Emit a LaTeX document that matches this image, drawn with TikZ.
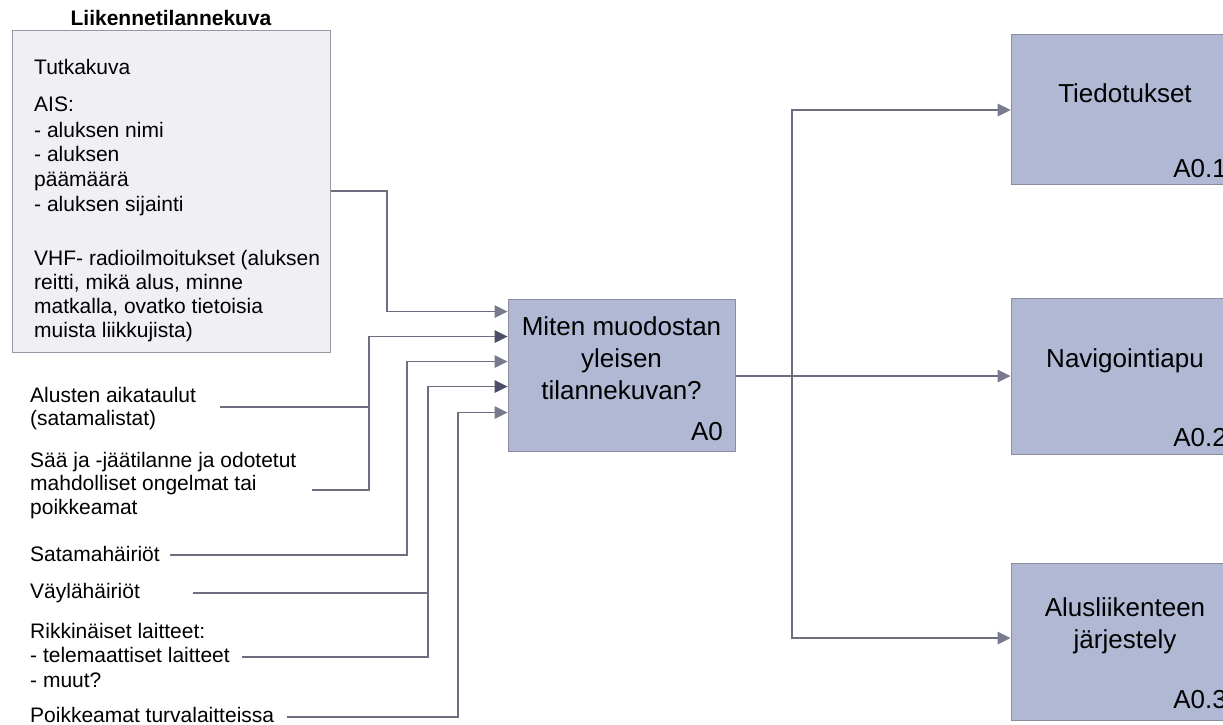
\documentclass[tikz,border=0pt]{standalone}
\usepackage{fontspec}
\setmainfont{Liberation Sans}
\usetikzlibrary{arrows.meta,calc}
\definecolor{procfill}{RGB}{176,184,212}
\definecolor{procdraw}{RGB}{140,140,158}
\definecolor{notefill}{RGB}{239,239,244}
\definecolor{notedraw}{RGB}{150,150,165}
\definecolor{wirecol}{RGB}{110,110,128}
\definecolor{tiplight}{RGB}{122,122,142}
\definecolor{tipdark}{RGB}{78,78,104}
\newcommand\lblfont{\fontsize{21}{24}\selectfont}
\newcommand\procfont{\fontsize{26}{32}\selectfont}
\tikzset{
  wire/.style={draw=wirecol, line width=1.8pt},
  tl/.style={-{Triangle[length=13pt,width=13pt,color=tiplight,line width=0pt]}},
  td/.style={-{Triangle[length=13pt,width=13pt,color=tipdark,line width=0pt]}},
  lbl/.style={font=\lblfont, inner sep=0pt, anchor=base west},
  ptext/.style={font=\procfont, inner sep=0pt, anchor=base},
  pnum/.style={font=\procfont, inner sep=0pt, anchor=base east},
  procbox/.style={draw=procdraw, fill=procfill, line width=1pt, inner sep=0pt, minimum width=228pt},
  notebox/.style={draw=notedraw, fill=notefill, line width=1pt, inner sep=0pt}
}
\begin{document}
\begin{tikzpicture}[x=1pt,y=-1pt]
\useasboundingbox (0,0) rectangle (1223,724);
\fill[white] (0,0) rectangle (1223,724);

% note box
\node[font=\lblfont\bfseries, inner sep=0pt, anchor=base] (title) at (171,25) {Liikennetilannekuva};
\node[notebox, minimum width=318pt, minimum height=322pt] (note) at (171,191) {};
\node[lbl] (t1) at (34,74) {Tutkakuva};
\node[lbl] (t2) at (34,111.5) {AIS:};
\node[lbl] (t3) at (34,137) {- aluksen nimi};
\node[lbl] (t4) at (34,161.5) {- aluksen};
\node[lbl] (t5) at (34,186.5) {päämäärä};
\node[lbl] (t6) at (34,211.5) {- aluksen sijainti};
\node[lbl] (t7) at (34,265) {VHF- radioilmoitukset (aluksen};
\node[lbl] (t8) at (34,289) {reitti, mikä alus, minne};
\node[lbl] (t9) at (34,313) {matkalla, ovatko tietoisia};
\node[lbl] (t10) at (34,337) {muista liikkujista)};

% left labels
\node[lbl] (l1a) at (30,402) {Alusten aikataulut};
\node[lbl] (l1b) at (30,425) {(satamalistat)};
\node[lbl] (l2a) at (30,467) {Sää ja -jäätilanne ja odotetut};
\node[lbl] (l2b) at (30,490) {mahdolliset ongelmat tai};
\node[lbl] (l2c) at (30,514) {poikkeamat};
\node[lbl] (l3) at (30,561) {Satamahäiriöt};
\node[lbl] (l4) at (30,598) {Väylähäiriöt};
\node[lbl] (l5a) at (30,638) {Rikkinäiset laitteet:};
\node[lbl] (l5b) at (30,662) {- telemaattiset laitteet};
\node[lbl] (l5c) at (30,687) {- muut?};
\node[lbl] (l6) at (30,722) {Poikkeamat turvalaitteissa};

% center process
\node[procbox, minimum width=227pt, minimum height=152pt] (a0) at (621.5,375) {};
\node[ptext] (a0l1) at (621.5,335) {Miten muodostan};
\node[ptext] (a0l2) at (621.5,367) {yleisen};
\node[ptext] (a0l3) at (621.5,399) {tilannekuvan?};
\node[pnum] (a0n) at (723,440) {A0};

% right processes
\node[procbox, minimum height=150pt] (p1) at (1125,109) {};
\node[ptext] (p1t) at (1125,102) {Tiedotukset};
\node[pnum] (p1n) at (1227,177) {A0.1};
\node[procbox, minimum height=156pt] (p2) at (1125,376) {};
\node[ptext] (p2t) at (1125,367) {Navigointiapu};
\node[pnum] (p2n) at (1227,446) {A0.2};
\node[procbox, minimum height=157pt] (p3) at (1125,641.5) {};
\node[ptext] (p3t) at (1125,616) {Alusliikenteen};
\node[ptext] (p3u) at (1125,648) {järjestely};
\node[pnum] (p3n) at (1227,708) {A0.3};

% input points on a0
\coordinate (in1) at ($(a0.north west)+(0,13)$);
\coordinate (in2) at ($(a0.north west)+(0,38)$);
\coordinate (in3) at ($(a0.north west)+(0,63)$);
\coordinate (in4) at ($(a0.north west)+(0,88)$);
\coordinate (in5) at ($(a0.north west)+(0,114)$);

% free ends / junctions
\coordinate (s1) at (220,407);
\coordinate (j2) at (369,407);
\coordinate (s2) at (312,490);
\coordinate (s3) at (170,555);
\coordinate (j3) at (407,555);
\coordinate (s4) at (193,593);
\coordinate (s5) at (242,657);
\coordinate (j4) at (428,657);
\coordinate (s6) at (287,717);
\coordinate (j5) at (458,717);
\coordinate (j0) at (387,191);
\coordinate (j6) at (792,376);

% inputs
\draw[wire,tl] (note.east) -- (j0) |- (in1);
\draw[wire,td] (s1) -- (j2) |- (in2);
\draw[wire] (s2) -| (j2);
\draw[wire,tl] (s3) -- (j3) |- (in3);
\draw[wire,td] (s5) -- (j4) |- (in4);
\draw[wire] (s4) -- (s4 -| j4);
\draw[wire,tl] (s6) -- (j5) |- (in5);

% outputs
\draw[wire,tl] (a0.east |- j6) -- (p2.west |- j6);
\draw[wire,tl] (j6) |- ($(p1.west)+(0,1)$);
\draw[wire,tl] (j6) |- ($(p3.west)+(0,-3.5)$);
\end{tikzpicture}
\end{document}
